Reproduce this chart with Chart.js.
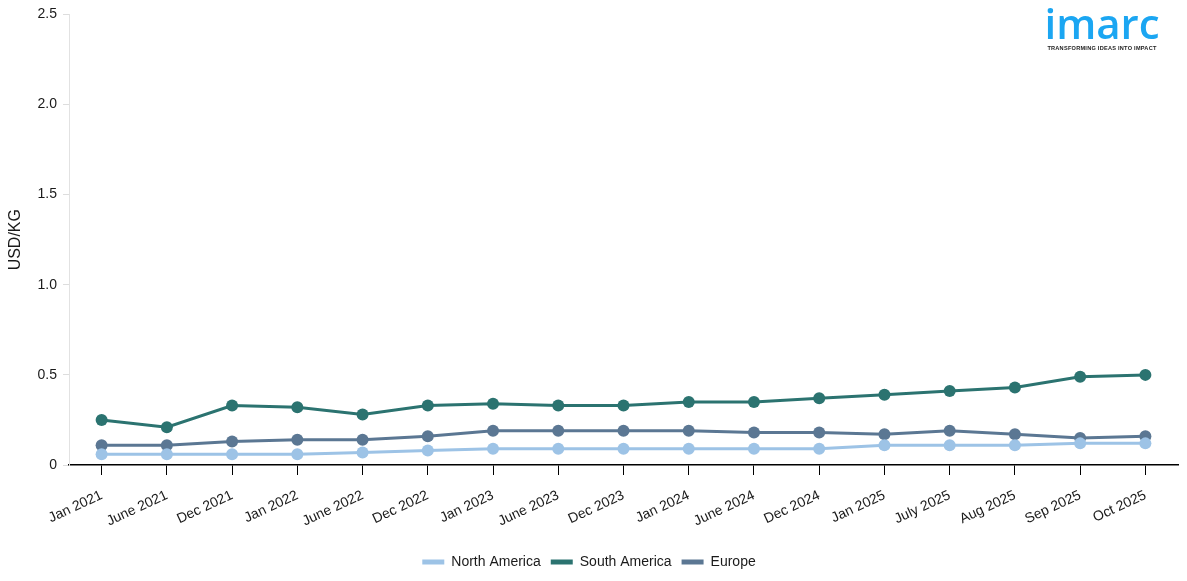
<!DOCTYPE html>
<html>
<head>
<meta charset="utf-8">
<script src="https://cdn.jsdelivr.net/npm/chart.js@4.4.1/dist/chart.umd.min.js"></script>
<style>
  html, body { margin: 0; padding: 0; background: #fff; }
  #wrap { position: relative; width: 1187px; height: 581px; }
  .logo { position: absolute; left: 1044px; top: 2px; width: 116px; text-align: center; font-family: 'Liberation Sans', Arial, sans-serif; }
  .logo .word { color: #1ba6f2; font-size: 42px; font-weight: 600; line-height: 42px; letter-spacing: 0px; font-family: 'Open Sans', sans-serif; }
  .logo .tag { color: #222; font-size: 5.6px; font-weight: 700; letter-spacing: 0.25px; margin-top: 1px; white-space: nowrap; }
</style>
</head>
<body>
<div id="wrap">
  <canvas id="chart" width="1187" height="581"></canvas>
  <div class="logo"><div class="word">imarc</div><div class="tag">TRANSFORMING IDEAS INTO IMPACT</div></div>
</div>
<script>
// ── Data ───────────────────────────────────────────────────
const labels = ['Jan 2021', 'June 2021', 'Dec 2021', 'Jan 2022', 'June 2022', 'Dec 2022', 'Jan 2023', 'June 2023',
  'Dec 2023', 'Jan 2024', 'June 2024', 'Dec 2024', 'Jan 2025', 'July 2025', 'Aug 2025', 'Sep 2025', 'Oct 2025']
const northAmerica = [0.06, 0.06, 0.06, 0.06, 0.07, 0.08, 0.09, 0.09, 0.09, 0.09, 0.09, 0.09, 0.11, 0.11, 0.11, 0.12, 0.12]
const southAmerica = [0.25, 0.21, 0.33, 0.32, 0.28, 0.33, 0.34, 0.33, 0.33, 0.35, 0.35, 0.37, 0.39, 0.41, 0.43, 0.49, 0.50]
const europe = [0.11, 0.11, 0.13, 0.14, 0.14, 0.16, 0.19, 0.19, 0.19, 0.19, 0.18, 0.18, 0.17, 0.19, 0.17, 0.15, 0.16]
const yTicks = [0, 0.5, 1.0, 1.5, 2.0, 2.5]

const textColor = '#1a1a1a'
const font = { family: "'Liberation Sans', Arial, sans-serif", size: 14 }

function series(label, data, color) {
  return {
    label,
    data,
    borderColor: color,
    backgroundColor: color,
    borderWidth: 3,
    pointRadius: 6,
    pointHoverRadius: 6,
    pointBackgroundColor: color,
    pointBorderWidth: 0,
    tension: 0,
  }
}

new Chart(document.getElementById('chart'), {
  type: 'line',
  data: {
    labels,
    datasets: [
      series('North America', northAmerica, '#9dc3e6'),
      series('South America', southAmerica, '#2b7370'),
      series('Europe', europe, '#5b7793'),
    ],
  },
  options: {
    responsive: false,
    animation: false,
    layout: { padding: { top: 13, right: 9, bottom: 2, left: 0 } },
    plugins: {
      legend: {
        position: 'bottom',
        labels: {
          color: textColor,
          font,
          boxWidth: 22,
          boxHeight: 5,
          padding: 10,
          generateLabels: (chart) => chart.data.datasets.map((d, i) => ({
            text: d.label,
            fillStyle: d.borderColor,
            strokeStyle: d.borderColor,
            lineWidth: 0,
            datasetIndex: i,
            fontColor: textColor,
          })),
        },
      },
      tooltip: { enabled: false },
    },
    scales: {
      x: {
        offset: true,
        afterFit: (s) => { s.height = 80 },
        grid: { drawOnChartArea: false, color: '#000', tickLength: 10, offset: false },
        border: { color: '#000', width: 1.5 },
        ticks: { color: textColor, font, maxRotation: 25, minRotation: 25, autoSkip: false, padding: 12 },
      },
      y: {
        min: 0,
        max: 2.5,
        afterFit: (s) => { s.width = 69 },
        afterBuildTicks: (s) => { s.ticks = yTicks.map((v) => ({ value: v })) },
        grid: { drawOnChartArea: false, color: '#ddd', tickLength: 6 },
        border: { color: '#e2e2e2' },
        ticks: {
          color: textColor,
          font,
          padding: 6,
          callback: (v) => (v === 0 ? '0' : v.toFixed(1)),
        },
        title: { display: true, text: 'USD/KG', color: textColor, font: { ...font, size: 16 }, padding: { top: 6, bottom: 0 } },
      },
    },
  },
})
</script>
</body>
</html>
